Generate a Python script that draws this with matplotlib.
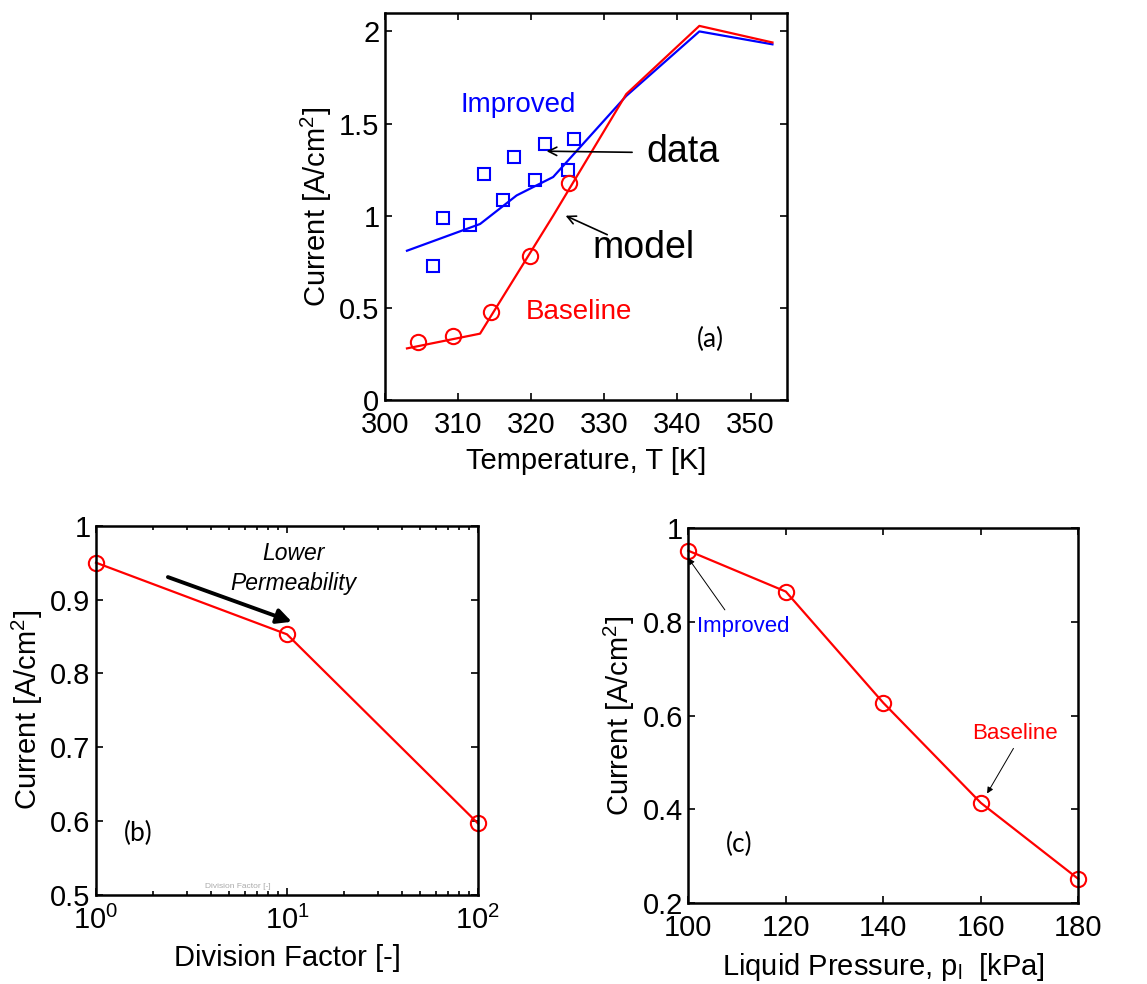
import matplotlib.pyplot as plt

plt.rcParams['font.family'] = ['Liberation Sans', 'DejaVu Sans']
plt.rcParams['mathtext.default'] = 'regular'

# (a) current vs temperature
temp_base_model = [303, 313, 323, 333, 343, 353]
cur_base_model = [0.28, 0.36, 1.0, 1.66, 2.03, 1.94]
temp_impr_model = [303, 313, 318, 323, 333, 343, 353]
cur_impr_model = [0.81, 0.955, 1.11, 1.21, 1.65, 2.0, 1.93]
temp_base_data = [304.5, 309.3, 314.5, 319.8, 325.2]
cur_base_data = [0.317, 0.348, 0.48, 0.78, 1.18]
temp_impr_data = [306.5, 307.9, 311.6, 313.5, 316.1, 317.6, 320.5, 321.9, 325.0, 325.9]
cur_impr_data = [0.725, 0.987, 0.947, 1.228, 1.087, 1.317, 1.196, 1.39, 1.246, 1.417]

# (b) current vs division factor
division = [1, 10, 100]
cur_division = [0.95, 0.853, 0.597]

# (c) current vs liquid pressure
pressure = [100, 120, 140, 160, 180]
cur_pressure = [0.951, 0.864, 0.627, 0.414, 0.252]

RED = '#ff0000'
BLUE = '#0000ff'
FS = 21


def style(ax):
    ax.tick_params(which='both', direction='in', top=True, right=True,
                   labelsize=FS, width=1.2)
    ax.tick_params(axis='x', pad=8)
    ax.tick_params(axis='y', pad=4)
    ax.tick_params(which='major', length=5)
    ax.tick_params(which='minor', length=3)
    for s in ax.spines.values():
        s.set_linewidth(1.8)
    ax.xaxis.labelpad = 6
    ax.yaxis.labelpad = 4


def arrow(ax, start, end, lw=1.2, style='->', ms=15):
    ax.annotate('', xy=end, xytext=start,
                arrowprops=dict(arrowstyle=style, color='black', lw=lw,
                                mutation_scale=ms, shrinkA=0, shrinkB=0))


fig = plt.figure(figsize=(11.47, 9.84), dpi=100)

# ---- (a)
ax = fig.add_axes([0.3357, 0.5935, 0.3505, 0.3933])
ax.plot(temp_impr_model, cur_impr_model, color=BLUE, lw=1.6)
ax.plot(temp_base_model, cur_base_model, color=RED, lw=1.6)
ax.plot(temp_impr_data, cur_impr_data, 's', mfc='none', mec=BLUE, ms=9, mew=1.5, clip_on=False)
ax.plot(temp_base_data, cur_base_data, 'o', mfc='none', mec=RED, ms=11, mew=1.5, clip_on=False)
ax.set_xlim(300, 355)
ax.set_ylim(0, 2.1)
ax.set_xticks([300, 310, 320, 330, 340, 350])
ax.set_yticks([0, 0.5, 1, 1.5, 2])
ax.set_yticklabels(['0', '0.5', '1', '1.5', '2'])
ax.set_xlabel('Temperature, T [K]', fontsize=FS)
ax.set_ylabel('Current [A/cm$^2$]', fontsize=FS)
ax.text(318.2, 1.60, 'Improved', color=BLUE, fontsize=20, ha='center', va='center')
ax.text(326.5, 0.48, 'Baseline', color=RED, fontsize=20, ha='center', va='center')
ax.text(335.8, 1.344, 'data', fontsize=27, ha='left', va='center')
arrow(ax, (333.8, 1.344), (322.1, 1.35))
ax.text(328.4, 0.824, 'model', fontsize=27, ha='left', va='center')
arrow(ax, (330.4, 0.897), (324.7, 1.0))
ax.text(344.5, 0.326, '(a)', fontsize=19, family='Lato', ha='center', va='center')
style(ax)

# ---- (b)
ax = fig.add_axes([0.0837, 0.0904, 0.333, 0.3753])
ax.semilogx(division, cur_division, '-o', color=RED, lw=1.6, mfc='none', ms=11, mew=1.5,
            clip_on=False)
ax.set_xlim(1, 100)
ax.set_ylim(0.5, 1)
ax.set_yticks([0.5, 0.6, 0.7, 0.8, 0.9, 1])
ax.set_yticklabels(['0.5', '0.6', '0.7', '0.8', '0.9', '1'])
ax.set_xlabel('Division Factor [-]', fontsize=FS)
ax.set_ylabel('Current [A/cm$^2$]', fontsize=FS)
arrow(ax, (2.38, 0.9305), (10.6, 0.87), lw=2.8, style='-|>', ms=22)
ax.text(10.76, 0.963, 'Lower', fontsize=16.5, style='italic', ha='center', va='center')
ax.text(10.76, 0.922, 'Permeability', fontsize=16.5, style='italic', ha='center', va='center')
ax.text(1.66, 0.583, '(b)', fontsize=19, family='Lato', ha='center', va='center')
ax.text(5.5, 0.511, 'Division Factor [-]', fontsize=6, color='#aaaaaa', ha='center', va='center')
style(ax)

# ---- (c)
ax = fig.add_axes([0.6001, 0.082, 0.340, 0.3817])
ax.plot(pressure, cur_pressure, '-o', color=RED, lw=1.6, mfc='none', ms=11, mew=1.5,
        clip_on=False)
ax.set_xlim(100, 180)
ax.set_ylim(0.2, 1)
ax.set_xticks([100, 120, 140, 160, 180])
ax.set_yticks([0.2, 0.4, 0.6, 0.8, 1])
ax.set_yticklabels(['0.2', '0.4', '0.6', '0.8', '1'])
ax.set_xlabel('Liquid Pressure, p$_l$  [kPa]', fontsize=FS)
ax.set_ylabel('Current [A/cm$^2$]', fontsize=FS)
ax.text(111.3, 0.789, 'Improved', color=BLUE, fontsize=16, ha='center', va='center')
arrow(ax, (107.5, 0.825), (100, 0.935), lw=0.7, style='-|>', ms=9)
ax.text(167.0, 0.561, 'Baseline', color=RED, fontsize=16, ha='center', va='center')
arrow(ax, (166.7, 0.530), (161.3, 0.434), lw=0.7, style='-|>', ms=9)
ax.text(110.5, 0.326, '(c)', fontsize=19, family='Lato', ha='center', va='center')
style(ax)

fig.savefig('out.png', dpi=100)
